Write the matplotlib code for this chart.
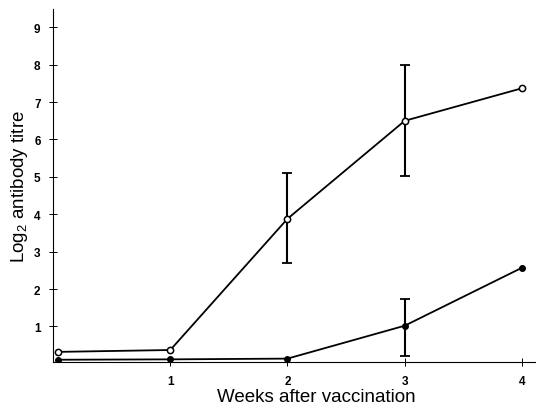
import matplotlib
matplotlib.use('Agg')
import matplotlib.pyplot as plt

plt.rcParams['font.family'] = ['Liberation Sans', 'DejaVu Sans']
plt.rcParams['mathtext.default'] = 'regular'

# open circles
weeks_open = [0.04, 1, 2, 3, 4]
titre_open = [0.32, 0.37, 3.88, 6.5, 7.37]
# filled circles
weeks_filled = [0.04, 1, 2, 3, 4]
titre_filled = [0.11, 0.12, 0.14, 1.02, 2.57]

# error bars (only where drawn)
err_weeks_open = [2, 3]
err_open_low = [1.19, 1.47]
err_open_high = [1.22, 1.5]
err_weeks_filled = [3]
err_filled_low = [0.82]
err_filled_high = [0.72]

xticks = [1, 2, 3, 4]
yticks = [1, 2, 3, 4, 5, 6, 7, 8, 9]

fig = plt.figure(figsize=(5.36, 4.10), dpi=100)
ax = fig.add_axes([0.099, 0.1156, 0.901, 0.86])

ax.plot(weeks_open, titre_open, color='black', lw=1.3, marker='o',
        mfc='white', mec='black', ms=4.5, mew=1.1, zorder=4)
ax.plot(weeks_filled, titre_filled, color='black', lw=1.3, marker='o',
        mfc='black', mec='black', ms=4, zorder=4)

ax.errorbar(err_weeks_open, [titre_open[weeks_open.index(w)] for w in err_weeks_open],
            yerr=[err_open_low, err_open_high], fmt='none', ecolor='black',
            elinewidth=1.5, capsize=3.5, capthick=1.3, zorder=3)
ax.errorbar(err_weeks_filled, [titre_filled[weeks_filled.index(w)] for w in err_weeks_filled],
            yerr=[err_filled_low, err_filled_high], fmt='none', ecolor='black',
            elinewidth=1.5, capsize=3.5, capthick=1.3, zorder=3)

ax.set_xlim(0, 4.12)
ax.set_ylim(0.06, 9.49)
ax.set_xticks(xticks)
ax.set_yticks(yticks)
ax.tick_params(direction='inout', length=6, width=0.7, labelsize=8.5)
ax.tick_params(axis='y', pad=6)
ax.tick_params(axis='x', pad=7)
for lab in ax.get_xticklabels() + ax.get_yticklabels():
    lab.set_fontweight('bold')

ax.spines['top'].set_visible(False)
ax.spines['right'].set_visible(False)
ax.spines['left'].set_linewidth(0.8)
ax.spines['bottom'].set_linewidth(0.8)

ax.set_xlabel('Weeks after vaccination', fontsize=13.5)
ax.xaxis.set_label_coords(0.545, -0.074)
ax.set_ylabel('Log$_2$ antibody titre', fontsize=13.5, labelpad=3)

fig.savefig('out.png', dpi=100)
